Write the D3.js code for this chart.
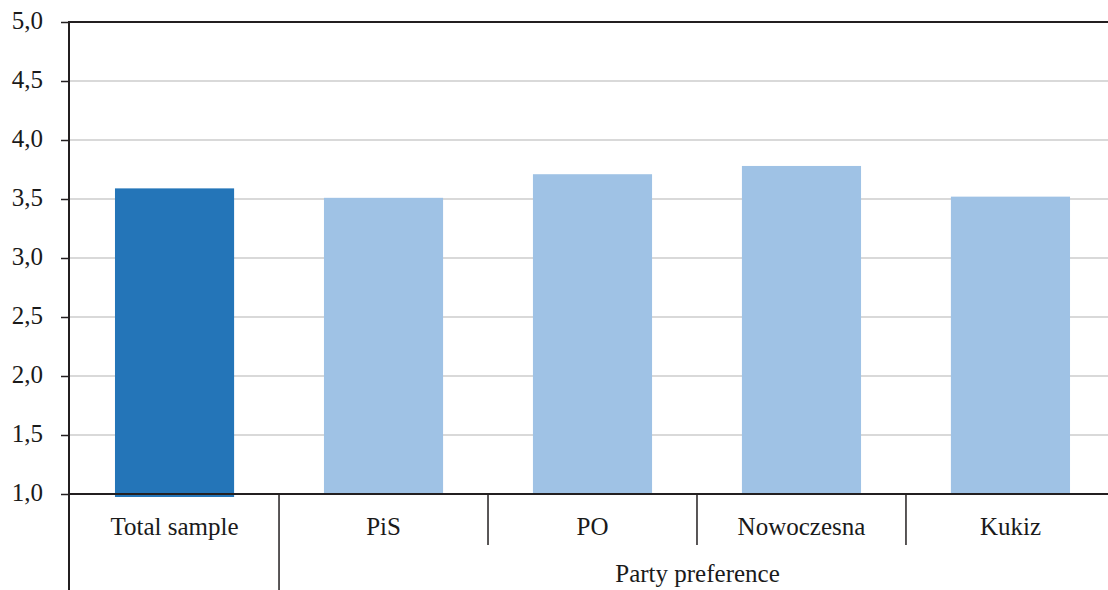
<!DOCTYPE html>
<html><head><meta charset="utf-8">
<script src="https://cdn.jsdelivr.net/npm/d3@7"></script>
<style>body{margin:0;background:#fff}svg{display:block}text{font-family:"Liberation Serif",serif;fill:#1a1a1a}</style>
</head><body>
<svg id="c" width="1108" height="590"></svg>
<script>
const categories = ["Total sample","PiS","PO","Nowoczesna","Kukiz"];
const values = [3.59, 3.51, 3.71, 3.78, 3.52];
const groupLabel = "Party preference";
const yTicks = [1.0,1.5,2.0,2.5,3.0,3.5,4.0,4.5,5.0];
const colors = ["#2475b8","#9fc2e5","#9fc2e5","#9fc2e5","#9fc2e5"];

(function(){
const svg = d3.select("#c");
const mLeft = 69, mRight = 1116, mTop = 22, mBottom = 494;
const x = d3.scaleBand().domain(categories).range([mLeft, mRight]).paddingInner(0.43).paddingOuter(0.22);
const y = d3.scaleLinear().domain([1,5]).range([mBottom, mTop]);
const step = x.step();
const fs = "25px";
const ff = "'Liberation Serif', serif";

// gridlines
svg.append("g").selectAll("line").data(yTicks.filter(t=>t>1&&t<5)).join("line")
  .attr("x1", mLeft).attr("x2", 1108).attr("y1", d=>y(d)).attr("y2", d=>y(d))
  .attr("stroke", "#d9d9d9").attr("stroke-width", 2);

// bars
svg.append("g").selectAll("rect").data(categories).join("rect")
  .attr("x", d=>x(d)).attr("width", x.bandwidth())
  .attr("y", (d,i)=>y(values[i]))
  .attr("height", (d,i)=> y(1) - y(values[i]) + (i===0?3:0))
  .attr("fill", (d,i)=>colors[i]);

// top border
svg.append("line").attr("x1", mLeft).attr("x2", 1108).attr("y1", y(5)).attr("y2", y(5))
  .attr("stroke", "#231f20").attr("stroke-width", 2);

// y axis
const ya = d3.axisLeft(y).tickValues(yTicks).tickSize(8).tickPadding(18)
  .tickFormat(d=>d3.format(".1f")(d).replace(".", ","));
const yg = svg.append("g").attr("transform", `translate(${mLeft},0)`).call(ya)
  .attr("font-family", ff).attr("font-size", fs);
yg.select(".domain").remove();
yg.selectAll(".tick line").attr("stroke", "#231f20").attr("stroke-width", 1.5);
yg.selectAll(".tick text").style("font-family", ff).style("font-size", fs).attr("fill", "#1a1a1a").attr("dy", "0.25em");
svg.append("line").attr("x1", mLeft).attr("x2", mLeft).attr("y1", mTop-1).attr("y2", 590)
  .attr("stroke", "#231f20").attr("stroke-width", 2);

// x axis baseline
svg.append("line").attr("x1", mLeft).attr("x2", 1108).attr("y1", mBottom).attr("y2", mBottom)
  .attr("stroke", "#231f20").attr("stroke-width", 2);

// dividers
categories.slice(1).forEach((c,i)=>{
  const bx = x(c) - (step - x.bandwidth())/2;
  svg.append("line").attr("x1", bx).attr("x2", bx).attr("y1", mBottom)
    .attr("y2", i===0 ? 590 : 545).attr("stroke", "#231f20").attr("stroke-width", 1.5);
});

// category labels
svg.append("g").selectAll("text").data(categories).join("text")
  .attr("x", d=>x(d)+x.bandwidth()/2).attr("y", 535)
  .attr("text-anchor", "middle").style("font-size", fs).text(d=>d);

// group label
const g0 = x(categories[1]) - (step - x.bandwidth())/2;
svg.append("text").attr("x", (g0 + mRight)/2).attr("y", 582)
  .attr("text-anchor", "middle").style("font-size", fs).text(groupLabel);
})();
</script>
</body></html>
